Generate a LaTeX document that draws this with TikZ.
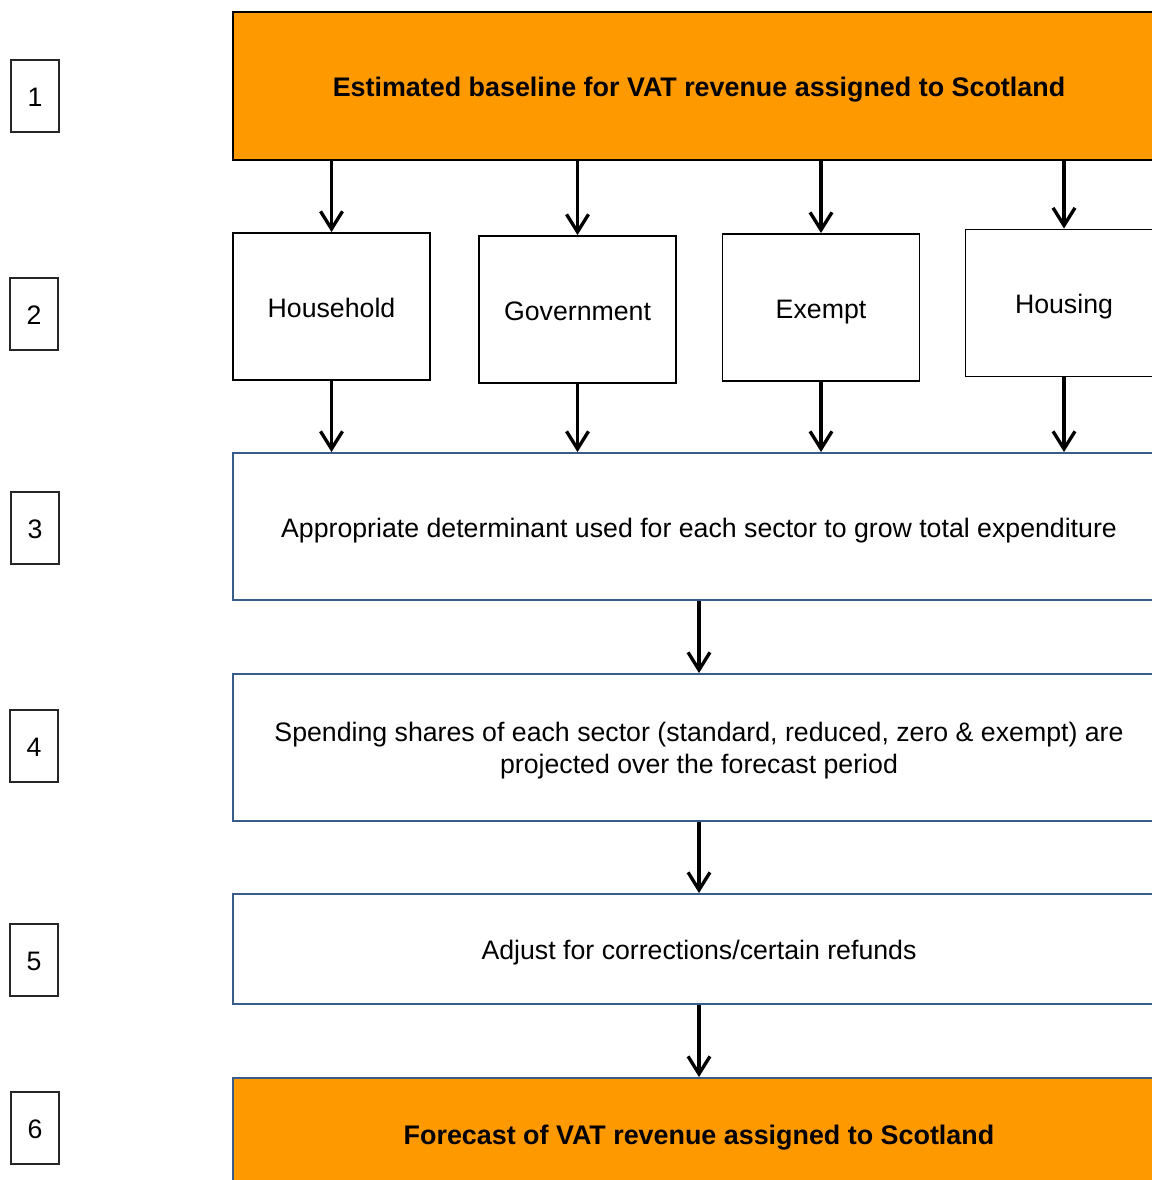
\documentclass[tikz,border=0pt]{standalone}
\usepackage{fontspec}
\setmainfont{Liberation Sans}
\usetikzlibrary{arrows.meta}
\definecolor{vatorange}{RGB}{255,153,0}
\definecolor{vatblue}{RGB}{56,93,138}
\tikzset{
  flatline/.style={text height=12pt,text depth=0pt},
  stepnum/.style={draw=black!85,line width=0.6pt,minimum width=0.96cm,minimum height=1.44cm,inner sep=0pt,flatline},
  sectorbox/.style={draw,line width=1.1pt,minimum width=3.94cm,minimum height=2.94cm,inner sep=0pt,flatline},
  widebox/.style={draw=vatblue,line width=1.1pt,minimum width=18.64cm,inner sep=0pt,align=center},
  flow/.style={line width=1.9pt,-{Straight Barb[length=10pt,width=12.5pt]}}
}
\begin{document}
\begin{tikzpicture}[x=0.02cm,y=-0.02cm,every node/.style={font=\fontsize{15.2}{18}\selectfont}]
  \useasboundingbox (0,0) rectangle (1152,1180);
  \clip (0,0) rectangle (1152,1180);
  % step numbers
  \foreach \n/\x/\y in {1/35/96,2/34/314,3/35/528,4/34/746,5/34/960,6/35/1128}
    \node[stepnum] (num\n) at (\x,\y) {\n};
  % main flow
  \node[widebox,flatline,draw=black,fill=vatorange,minimum height=2.96cm,font=\fontsize{15.3}{18}\selectfont\bfseries] (base) at (699,86) {Estimated baseline for VAT revenue assigned to Scotland};
  \node[sectorbox] (hh) at (331.5,306.5) {Household};
  \node[sectorbox] (gov) at (577.5,309.5) {Government};
  \node[sectorbox] (ex) at (821,307.5) {Exempt};
  \node[sectorbox] (hs) at (1064,303) {Housing};
  \node[widebox,flatline,minimum height=2.94cm] (grow) at (699,526.5) {Appropriate determinant used for each sector to grow total expenditure};
  \node[widebox,minimum height=2.94cm] (shares) at (699,747.5) {\rule{0pt}{14.7pt}Spending shares of each sector (standard, reduced, zero \& exempt) are\\projected over the forecast period};
  \node[widebox,flatline,minimum height=2.2cm] (adjust) at (699,949) {Adjust for corrections/certain refunds};
  \node[widebox,flatline,fill=vatorange,minimum height=2.24cm,font=\fontsize{15.3}{18}\selectfont\bfseries] (fcst) at (699,1134) {Forecast of VAT revenue assigned to Scotland};
  % connectors
  \foreach \s in {hh,gov,ex,hs}{
    \draw[flow] (\s.north |- base.south) -- (\s.north);
    \draw[flow] (\s.south) -- (\s.south |- grow.north);
  }
  \draw[flow] (grow) -- (shares);
  \draw[flow] (shares) -- (adjust);
  \draw[flow] (adjust) -- (fcst);
\end{tikzpicture}
\end{document}
